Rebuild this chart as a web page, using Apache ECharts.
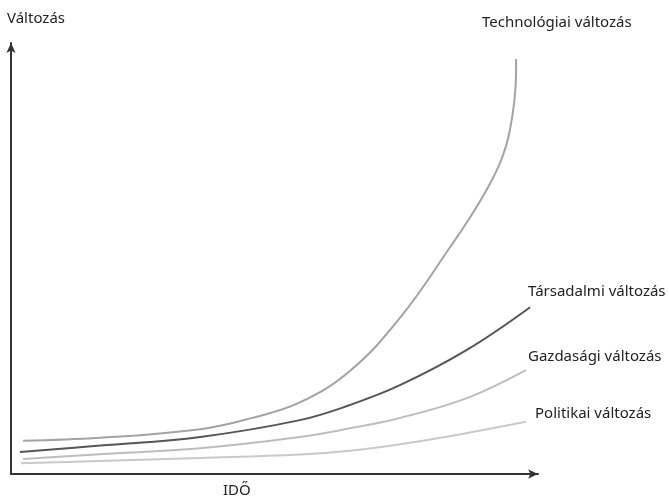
<!DOCTYPE html>
<html><head><meta charset="utf-8">
<script src="https://cdn.jsdelivr.net/npm/echarts@6/dist/echarts.min.js"></script>
<style>html,body{margin:0;padding:0;background:#fff}#c{width:669px;height:498px}</style>
</head><body><div id="c"></div>
<script>
// Data (time 0-100, change 0-100)
const seriesNames = ['Technológiai változás','Társadalmi változás','Gazdasági változás','Politikai változás'];
const techT = [2.3,16.9,35.9,45.4,54.8,64.3,73.8,83.3,89.0,92.8,94.7,95.8,95.85];
const techV = [7.7,8.4,10.4,12.9,16.6,23.9,36.2,52.6,63.3,72.2,80.0,91.4,96.3];
const tarsT = [1.7,16.9,35.9,54.8,64.3,73.8,86.5,98.5];
const tarsV = [5.1,6.6,8.6,12.5,16.0,20.6,28.8,38.7];
const gazdT = [2.3,16.9,35.9,54.8,64.3,73.8,86.5,97.7];
const gazdV = [3.5,4.6,6.0,8.6,10.6,13.0,17.6,24.1];
const polT  = [1.9,16.9,35.9,54.8,64.3,73.8,86.5,97.7];
const polV  = [2.5,3.0,3.7,4.5,5.4,6.9,9.5,12.1];
const xAxisName = 'IDŐ';
const yAxisName = 'Változás';

const zip = (a,b) => a.map((v,i)=>[v,b[i]]);
const colors = ['#a3a3a3','#555555','#bdbdbd','#c9c9c9'];
const datasets = [zip(techT,techV),zip(tarsT,tarsV),zip(gazdT,gazdV),zip(polT,polV)];
const font = '"Noto Sans", "Open Sans", sans-serif';
const chart = echarts.init(document.getElementById('c'), null, {renderer:'canvas'});
const txt = (text,x,y,align) => ({type:'text', x:x, y:y, style:{text:text, font:'15px '+font, fill:'#222', textAlign:align||'left', textVerticalAlign:'middle'}});
chart.setOption({
  animation:false,
  grid:{left:11,right:131,top:43,bottom:24},
  xAxis:{type:'value',min:0,max:100,axisLine:{lineStyle:{color:'#333',width:2},symbol:['none','arrow'],symbolSize:[7,10]},axisTick:{show:false},axisLabel:{show:false},splitLine:{show:false}},
  yAxis:{type:'value',min:0,max:100,axisLine:{show:true,lineStyle:{color:'#333',width:2},symbol:['none','arrow'],symbolSize:[7,10]},axisTick:{show:false},axisLabel:{show:false},splitLine:{show:false}},
  series: datasets.map((d,i)=>({type:'line',name:seriesNames[i],data:d,smooth:0.4,showSymbol:false,lineStyle:{color:colors[i],width:2},z:10-i})),
  graphic:[
    txt(yAxisName,7,19),
    txt(seriesNames[0],482,23),
    txt(seriesNames[1],528,292),
    txt(seriesNames[2],528,357),
    txt(seriesNames[3],535,414),
    txt(xAxisName,223,491)
  ]
});
</script></body></html>
